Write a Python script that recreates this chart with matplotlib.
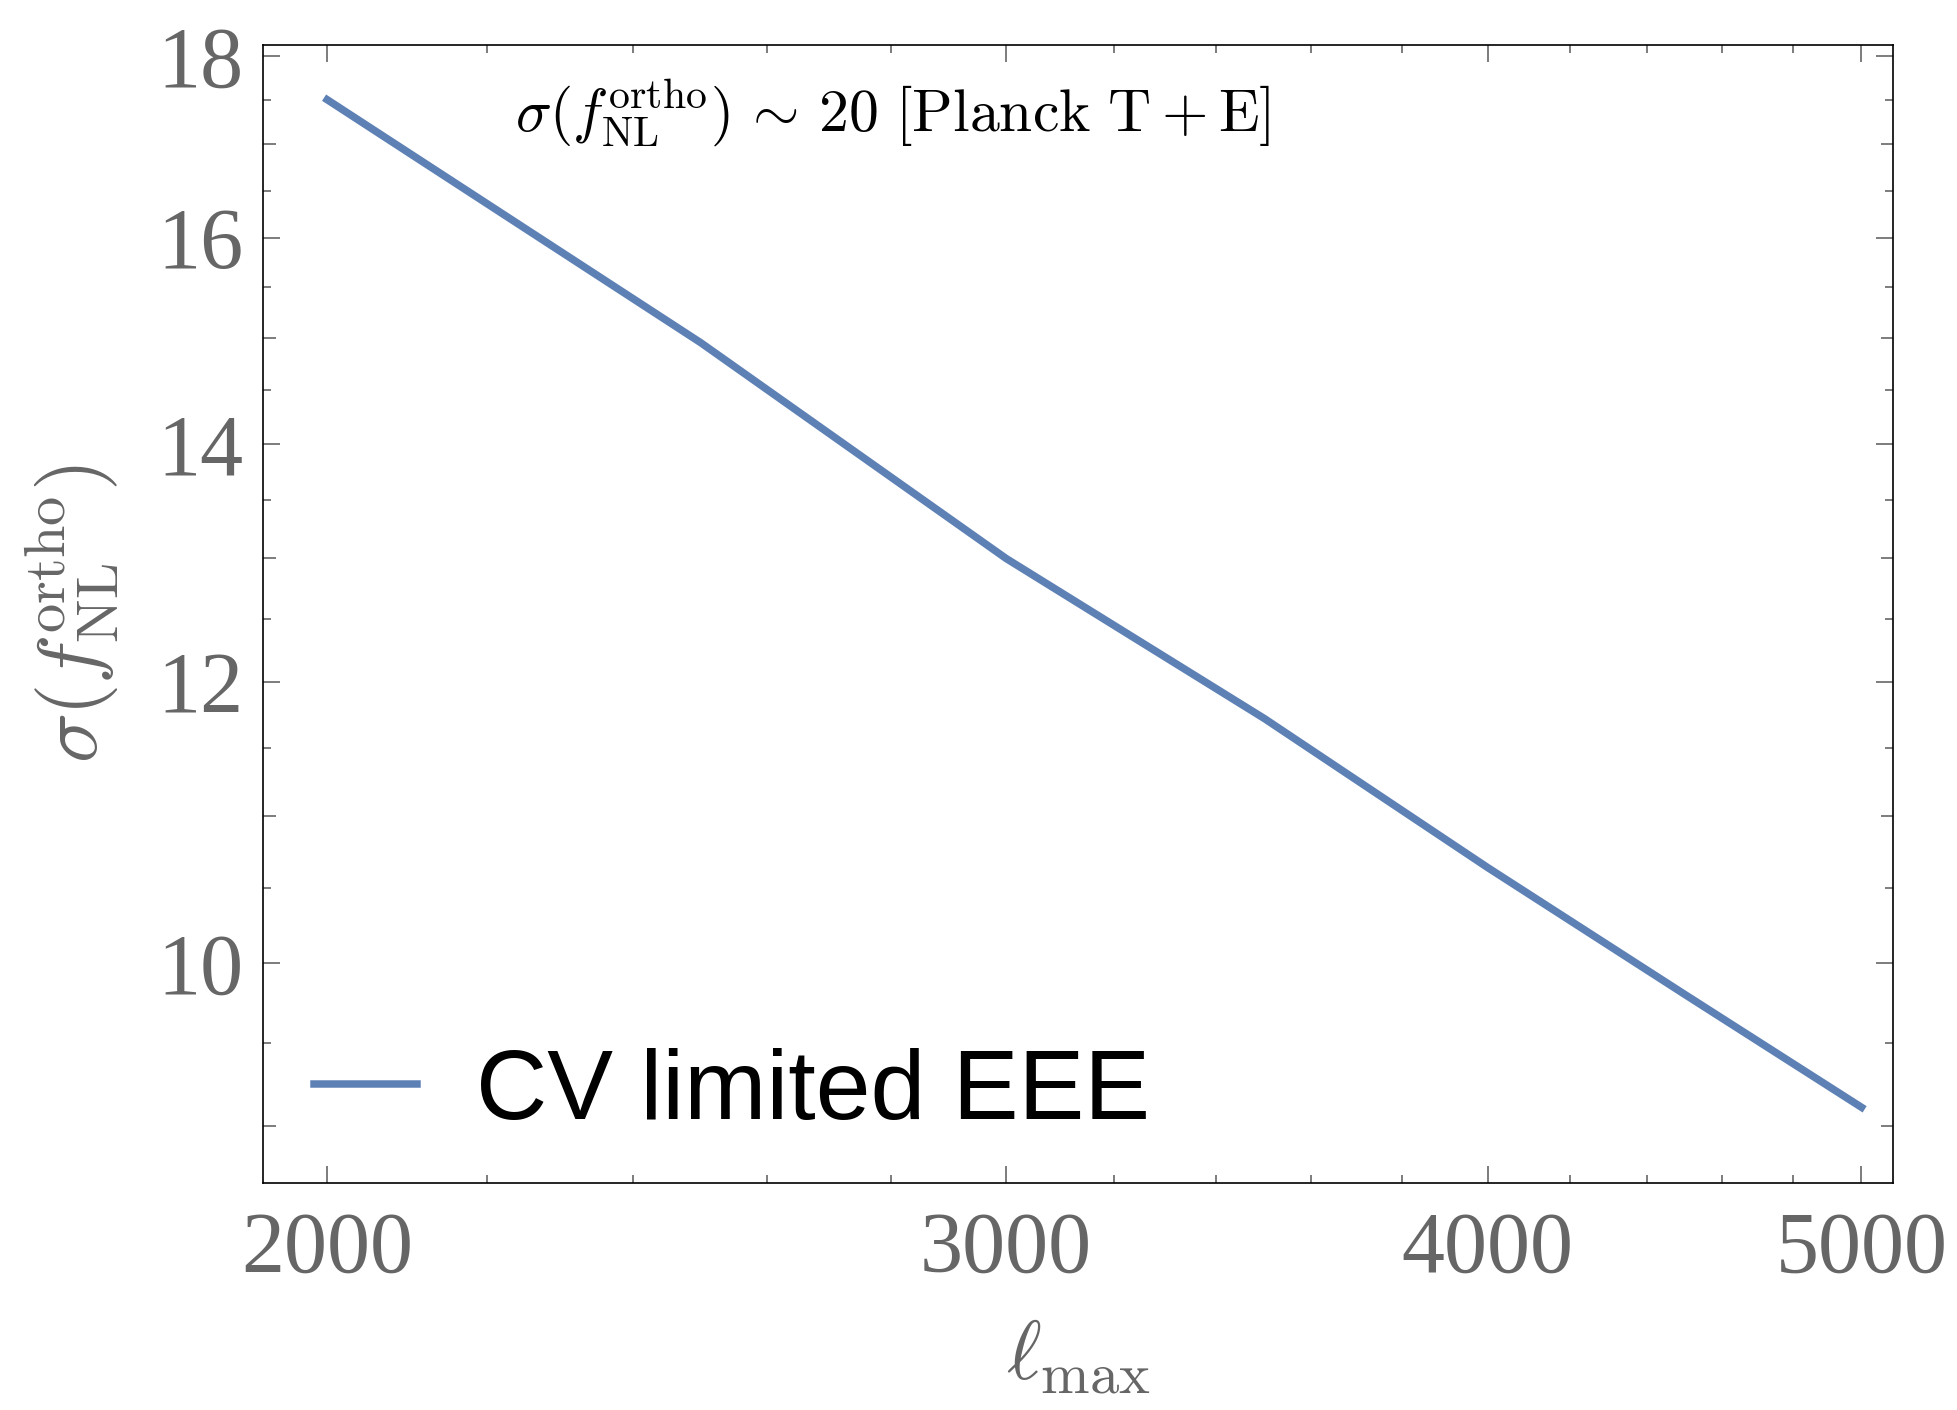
"""sigma(f_NL^ortho) forecast vs ell_max, CV limited EEE."""

import numpy as np
import matplotlib
matplotlib.use("Agg")
import matplotlib.pyplot as plt
from matplotlib.ticker import FixedLocator, NullFormatter

plt.rcParams["mathtext.fontset"] = "cm"

ell_max = [2000, 2500, 3000, 3500, 4000, 4500, 5000]
sigma_eee = [17.50, 14.95, 13.00, 11.72, 10.64, 9.80, 9.11]

x_major = [2000, 3000, 4000, 5000]
x_minor = [v for v in range(2000, 5001, 200) if v not in x_major]
y_major = [10, 12, 14, 16, 18]
y_minor = [v for v in np.arange(8.5, 18.01, 0.5) if v not in y_major]

line_color = "#5E81B5"
gray = "#666666"

fig = plt.figure(figsize=(19.57, 14.10), dpi=100)
ax = fig.add_axes([0.1345, 0.161, 0.8328, 0.807])

ax.plot(ell_max, sigma_eee, color=line_color, lw=5.4, label="CV limited EEE")

ax.set_xscale("log")
ax.set_yscale("log")
ax.set_xlim(1925, 5095)
ax.set_ylim(8.674, 18.13)

ax.xaxis.set_major_locator(FixedLocator(x_major))
ax.xaxis.set_minor_locator(FixedLocator(x_minor))
ax.yaxis.set_major_locator(FixedLocator(y_major))
ax.yaxis.set_minor_locator(FixedLocator(y_minor))
ax.set_xticklabels([str(v) for v in x_major])
ax.set_yticklabels([str(v) for v in y_major])
ax.xaxis.set_minor_formatter(NullFormatter())
ax.yaxis.set_minor_formatter(NullFormatter())

ax.tick_params(which="both", direction="in", top=True, right=True,
               colors=gray, width=1.2, labelcolor=gray)
ax.tick_params(which="major", length=12, labelsize=62, pad=14)
ax.tick_params(which="minor", length=6)
ax.tick_params(axis="x", which="major", pad=20)
for lab in ax.get_xticklabels() + ax.get_yticklabels():
    lab.set_family("Liberation Serif")

# odd integers get a slightly longer minor tick
yticks = ax.yaxis.get_minor_ticks(len(y_minor))
for tick, loc in zip(yticks, y_minor):
    if abs(loc - round(loc)) < 1e-6:
        tick.tick1line.set_markersize(9)
        tick.tick2line.set_markersize(9)

for sp in ax.spines.values():
    sp.set_linewidth(1.2)
    sp.set_color("black")

ax.set_xlabel(r"$\ell_{\rm max}$", fontsize=60, color=gray, labelpad=18)
ax.set_ylabel(r"$\sigma(f_{\rm NL}^{\rm ortho})$", fontsize=60, color=gray, labelpad=26)

ax.text(0.386, 0.941,
        r"$\sigma(f_{\rm NL}^{\rm ortho})\,\sim\,20\ [\rm Planck\ T + E]$",
        transform=ax.transAxes, ha="center", va="center", fontsize=43, color="black")

ax.legend(loc="lower left", bbox_to_anchor=(0.0067, 0.0044), frameon=False,
          handlelength=1.05, handletextpad=0.6, borderaxespad=0,
          prop={"family": "Liberation Sans", "size": 71})

fig.savefig("out.png", dpi=100)
